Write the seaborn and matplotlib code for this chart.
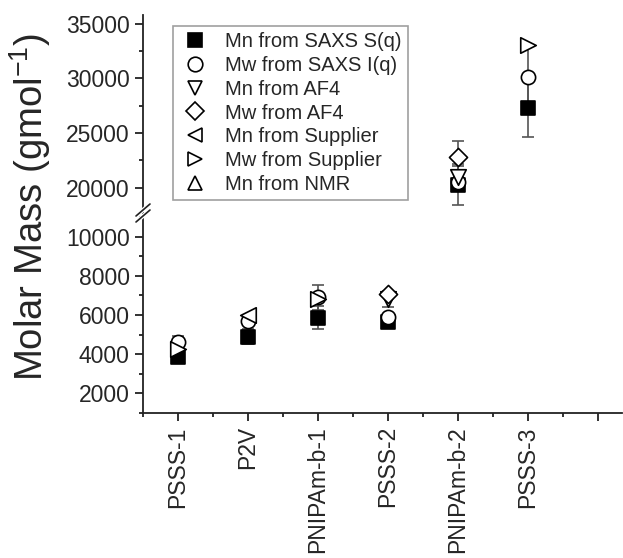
import numpy as np
import pandas as pd
import seaborn as sns
import matplotlib.pyplot as plt
from matplotlib.lines import Line2D
from matplotlib.ticker import MultipleLocator

sns.set_style("ticks")
plt.rcParams['font.family'] = ['Liberation Sans', 'DejaVu Sans']
plt.rcParams['mathtext.default'] = 'regular'

nan = np.nan
samples = ["PSSS-1", "P2V", "PNIPAm-b-1", "PSSS-2", "PNIPAm-b-2", "PSSS-3"]
tick_labels = samples + [""]

series_names = ["Mn from SAXS S(q)", "Mw from SAXS I(q)", "Mn from AF4", "Mw from AF4",
                "Mn from Supplier", "Mw from Supplier", "Mn from NMR"]
mn_saxs = [3870, 4900, 5870, 5650, 20300, 27330]
mn_saxs_err = [300, 400, 600, 300, 1900, 2700]
mw_saxs = [4620, 5700, 6900, 5880, 20550, 30100]
mw_saxs_err = [300, nan, 650, nan, nan, 3000]
mn_af4 = [nan, nan, nan, 6800, 21000, nan]
mn_af4_err = [nan, nan, nan, 400, 1000, nan]
mw_af4 = [nan, nan, nan, 7050, 22850, nan]
mw_af4_err = [nan, nan, nan, nan, 1400, nan]
mn_supplier = [nan, 6000, nan, nan, nan, nan]
mw_supplier = [4280, nan, 6800, nan, nan, 33100]
mn_nmr = [nan, nan, nan, nan, nan, nan]

values = [mn_saxs, mw_saxs, mn_af4, mw_af4, mn_supplier, mw_supplier, mn_nmr]
errors = [mn_saxs_err, mw_saxs_err, mn_af4_err, mw_af4_err, None, None, None]
markers = ["s", "o", "v", "D", "<", ">", "^"]
sizes = [90, 105, 125, 85, 125, 125, 125]
faces = ["black"] + ["white"] * 6

rows = []
for name, vals in zip(series_names, values):
    for s, v in zip(samples, vals):
        rows.append({"sample": s, "pos": samples.index(s) + 1, "series": name, "mass": v})
df = pd.DataFrame(rows)

fig = plt.figure(figsize=(6.23, 5.58), dpi=100)
ax_lo = fig.add_axes([143 / 623, 1 - 413 / 558, 479 / 623, 200 / 558])
ax_hi = fig.add_axes([143 / 623, 1 - 213 / 558, 479 / 623, 198 / 558])

for ax in (ax_lo, ax_hi):
    for i, name in enumerate(series_names):
        d = df[df["series"] == name].dropna(subset=["mass"])
        if errors[i] is not None:
            err = pd.Series(errors[i], index=samples).reindex(d["sample"]).values
            ok = ~np.isnan(err)
            ax.errorbar(d["pos"].values[ok], d["mass"].values[ok], yerr=err[ok], fmt="none",
                        ecolor="#555555", elinewidth=1.2, capsize=4, capthick=1.2, zorder=2)
        if len(d):
            sns.scatterplot(data=d, x="pos", y="mass", marker=markers[i], s=sizes[i],
                            color=faces[i], edgecolor="black", linewidth=1.2,
                            ax=ax, zorder=3 + i, legend=False)
    ax.set_xlim(0.5, 7.35)
    ax.set_xlabel("")
    ax.set_ylabel("")
    for sp in ["top", "right"]:
        ax.spines[sp].set_visible(False)
    for sp in ["left", "bottom"]:
        ax.spines[sp].set_linewidth(1.3)
        ax.spines[sp].set_color("#222222")
    ax.tick_params(which="major", length=6, width=1.3, labelsize=16.5, color="#222222")
    ax.tick_params(which="minor", length=3, width=1.3, color="#222222")

ax_lo.set_ylim(1000, 11200)
ax_lo.yaxis.set_major_locator(MultipleLocator(2000))
ax_lo.yaxis.set_minor_locator(MultipleLocator(1000))
ax_lo.set_xticks(range(1, 8))
ax_lo.set_xticklabels(tick_labels, rotation=90)
ax_lo.xaxis.set_minor_locator(MultipleLocator(0.5))

ax_hi.set_ylim(17700, 35800)
ax_hi.yaxis.set_major_locator(MultipleLocator(5000))
ax_hi.yaxis.set_minor_locator(MultipleLocator(2500))
ax_hi.spines["bottom"].set_visible(False)
ax_hi.set_xticks([])
ax_hi.tick_params(axis="x", which="both", length=0)
ax_hi.patch.set_alpha(0)

# axis break marks
for col, lw in (("white", 3), ("#222222", 1.2)):
    for dy in (-3, 3):
        y0 = (558 - 213 + dy) / 558
        fig.add_artist(Line2D([136 / 623, 150 / 623], [y0 - 6 / 558, y0 + 6 / 558],
                              color=col, lw=lw))

handles = [Line2D([], [], ls="none", marker=m, markersize=10.5 if m != "D" else 9,
                  markerfacecolor=f, markeredgecolor="black", markeredgewidth=1.2)
           for m, f in zip(markers, faces)]
leg = ax_hi.legend(handles, series_names, loc="upper left",
                   bbox_to_anchor=(173 / 623, 1 - 26 / 558), bbox_transform=fig.transFigure,
                   borderaxespad=0, fontsize=14.5, frameon=True, fancybox=False,
                   handlelength=1.6, handletextpad=0.7, labelspacing=0.24,
                   borderpad=0.3)
leg.get_frame().set_edgecolor("#888888")
leg.get_frame().set_linewidth(1.2)

fig.text(30 / 623, 1 - 207 / 558, "Molar Mass (gmol$^{-1}$)", rotation=90,
         ha="center", va="center", fontsize=27.5)

fig.savefig("out.png", dpi=100)
